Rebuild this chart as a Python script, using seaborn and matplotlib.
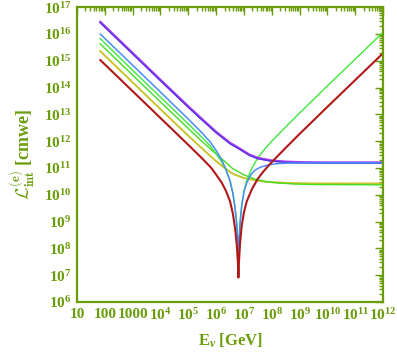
import numpy as np
import pandas as pd
import seaborn as sns
import matplotlib.pyplot as plt
from matplotlib.ticker import LogLocator, FixedLocator, NullFormatter

# log10 of neutrino energy [GeV] and log10 of interaction length [cmwe]
red_e = [1.83, 3.0, 4.0, 5.0, 5.5, 5.8, 6.0, 6.2, 6.35, 6.5, 6.6, 6.68, 6.74, 6.78, 6.80,
         6.82, 6.86, 6.92, 7.0, 7.1, 7.28, 7.5, 7.7, 8.0, 8.5, 9.0, 10.0, 11.0, 12.0]
red_l = [15.03, 13.86, 12.86, 11.86, 11.35, 11.03, 10.75, 10.45, 10.15, 9.75, 9.3, 8.75, 8.15, 7.5, 6.91,
         7.5, 8.2, 8.85, 9.35, 9.75, 10.2, 10.6, 10.87, 11.22, 11.75, 12.27, 13.28, 14.28, 15.28]

green_dip_e = [1.83, 3.0, 4.0, 5.0, 5.5, 5.8, 6.0, 6.2, 6.35, 6.5, 6.6, 6.68, 6.74, 6.78, 6.80,
               6.82, 6.86, 6.92, 7.0, 7.1, 7.28, 7.5, 7.7, 8.0, 8.5, 9.0, 10.0, 11.0, 12.0]
green_dip_l = [15.83, 14.64, 13.64, 12.64, 12.13, 11.81, 11.53, 11.23, 10.93, 10.53, 10.08, 9.53, 8.93, 8.28, 7.69,
               8.28, 8.98, 9.63, 10.13, 10.53, 10.98, 11.38, 11.65, 12.0, 12.53, 13.05, 14.06, 15.06, 16.06]

blue_e = [1.83, 3.0, 4.0, 5.0, 5.5, 5.8, 6.0, 6.2, 6.35, 6.5, 6.6, 6.68, 6.74, 6.78, 6.80,
          6.82, 6.86, 6.92, 7.0, 7.1, 7.25, 7.4, 7.6, 7.9, 8.2, 8.6, 9.5, 12.0]
blue_l = [16.0, 14.83, 13.83, 12.82, 12.3, 11.95, 11.65, 11.3, 10.95, 10.5, 10.05, 9.5, 8.9, 8.2, 7.6,
          8.2, 8.95, 9.6, 10.1, 10.45, 10.75, 10.92, 11.03, 11.12, 11.16, 11.18, 11.19, 11.19]

purple_e = [1.83, 3.0, 4.0, 5.0, 5.5, 6.0, 6.5, 6.86, 7.2, 7.5, 8.0, 8.5, 9.0, 10.0, 12.0]
purple_l = [16.45, 15.28, 14.28, 13.29, 12.81, 12.34, 11.93, 11.71, 11.49, 11.37, 11.27, 11.23, 11.21, 11.2, 11.2]
indigo_l = [16.42, 15.25, 14.25, 13.26, 12.78, 12.31, 11.90, 11.68, 11.46, 11.34, 11.25, 11.21, 11.19, 11.18, 11.18]

green_flat_e = [1.83, 3.0, 4.0, 5.0, 5.5, 6.0, 6.3, 6.6, 7.0, 7.4, 7.8, 8.2, 8.8, 9.5, 12.0]
green_flat_l = [15.63, 14.46, 13.46, 12.47, 11.98, 11.52, 11.25, 10.97, 10.74, 10.58, 10.49, 10.44, 10.40, 10.38, 10.37]

yellow_e = [1.83, 3.0, 4.0, 5.0, 5.5, 6.0, 6.3, 6.6, 7.0, 7.4, 7.8, 8.5, 9.5, 12.0]
yellow_l = [15.36, 14.19, 13.19, 12.2, 11.72, 11.25, 11.0, 10.78, 10.62, 10.54, 10.48, 10.44, 10.42, 10.42]

x_ticks = [10.0**k for k in range(1, 13)]
x_labels = ['10', '100', '1000'] + [r'$10^{%d}$' % k for k in range(4, 13)]
y_ticks = [10.0**k for k in range(6, 18)]
y_labels = [r'$10^{%d}$' % k for k in range(6, 18)]

sns.set_theme(style='white')
plt.rcParams['font.family'] = ['Liberation Serif', 'DejaVu Serif']
plt.rcParams['mathtext.fontset'] = 'custom'
plt.rcParams['mathtext.rm'] = 'Liberation Serif:bold'
plt.rcParams['mathtext.it'] = 'Liberation Serif:italic:bold'
plt.rcParams['mathtext.bf'] = 'Liberation Serif:bold'
olive = '#6a9c0a'

fig = plt.figure(figsize=(3.97, 3.54), dpi=100)
ax = fig.add_axes([0.194, 0.147, 0.771, 0.833])

curves = [
    (yellow_e, yellow_l, '#c9c42a', 1.4),
    (green_flat_e, green_flat_l, '#44dd22', 1.0),
    (green_dip_e, green_dip_l, '#3ee83a', 1.0),
    (purple_e, purple_l, '#a83cf2', 1.8),
    (purple_e, indigo_l, '#5236e0', 0.9),
    (blue_e, blue_l, '#4a8cf5', 1.1),
    (red_e, red_l, '#b01818', 1.5),
]
for e, l, c, w in curves:
    df = pd.DataFrame({'E': 10.0**np.array(e), 'L': 10.0**np.array(l)})
    sns.lineplot(data=df, x='E', y='L', color=c, lw=w, sort=False, estimator=None, ax=ax)

ax.set_xscale('log')
ax.set_yscale('log')
ax.set_xlim(10, 1e12)
ax.set_ylim(1e6, 1e17)

ax.xaxis.set_major_locator(FixedLocator(x_ticks))
ax.set_xticklabels(x_labels)
ax.yaxis.set_major_locator(FixedLocator(y_ticks))
ax.set_yticklabels(y_labels)
ax.xaxis.set_minor_locator(LogLocator(base=10, subs=np.arange(2, 10), numticks=30))
ax.yaxis.set_minor_locator(LogLocator(base=10, subs=np.arange(2, 10), numticks=30))
ax.xaxis.set_minor_formatter(NullFormatter())
ax.yaxis.set_minor_formatter(NullFormatter())

ax.tick_params(which='both', direction='in', top=True, right=True, colors=olive,
               labelcolor=olive, width=1.0)
ax.tick_params(which='major', length=6, labelsize=11, pad=4)
ax.tick_params(which='minor', length=3)
for lab in ax.get_xticklabels() + ax.get_yticklabels():
    lab.set_fontweight('bold')
for s in ax.spines.values():
    s.set_color(olive)
    s.set_linewidth(1.6)

ax.set_xlabel(r'E$_\nu$ [GeV]', color=olive, fontsize=12, fontweight='bold', labelpad=6)
ax.set_ylabel(r'$\mathcal{L}^{\mathbf{(e)}}_{\mathbf{int}}$ [cmwe]', color=olive, fontsize=13,
              fontweight='bold', labelpad=4, math_fontfamily='cm')

fig.savefig('out.png', dpi=100)
